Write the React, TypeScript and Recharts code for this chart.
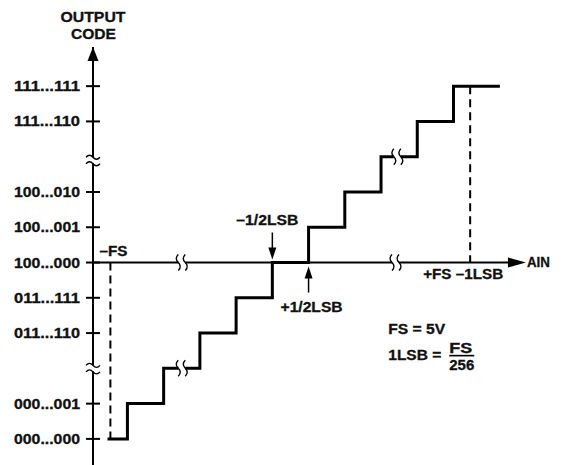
import React from 'react'
import { LineChart, Line, XAxis, YAxis, ReferenceLine, ReferenceDot } from 'recharts'

// --- data ---

// output code levels shown on the vertical axis (2 and 8 are the axis breaks)
const codeLevels = [0, 1, 3, 4, 5, 6, 7, 9, 10]
const codeLabels = [
  '000...000',
  '000...001',
  '011...110',
  '011...111',
  '100...000',
  '100...001',
  '100...010',
  '111...110',
  '111...111',
]

// input (in LSB) at which each code starts
const stepInput = [0.45, 1, 2, 3, 4, 5, 6, 7, 8, 9, 10, 11.28]
const stepCode = [0, 1, 2, 3, 4, 5, 6, 7, 8, 9, 10, 10]

const zeroCode = 5 // 100...000, where the AIN axis crosses
const minusFS = 0.53
const plusFSminus1LSB = 10.46
const minusHalfLSB = 5
const plusHalfLSB = 6
const axisBreaksX = [2.5, 8.4]
const stepBreaks = [
  { x: 2.5, y: 2 },
  { x: 8.45, y: 8 },
]
const codeBreaksY = [2.0, 7.9]

const X_DOMAIN: [number, number] = [0.05, 13.05]
const Y_DOMAIN: [number, number] = [-0.74, 11.11]
const AIN_ARROW_TIP = 12.0
const AIN_ARROW_BASE = 11.52

const chartData = stepInput.map((x, i) => ({ x, code: stepCode[i] }))

const FONT = '"Liberation Sans", Arial, Helvetica, sans-serif'

// bold text stretched to the width it has in the reference
function T({ x, y, w, anchor = 'start', children }: any) {
  return (
    <text
      x={x}
      y={y}
      textAnchor={anchor}
      fontFamily={FONT}
      fontWeight={700}
      fontSize={14}
      fill="#111"
      stroke="#111"
      strokeWidth={0.3}
      textLength={w}
      lengthAdjust="spacingAndGlyphs"
    >
      {children}
    </text>
  )
}

function CodeTick(props: any) {
  const { x, y, payload } = props
  const label = codeLabels[codeLevels.indexOf(payload.value)]
  return (
    <g>
      <line x1={x} x2={x + 14} y1={y} y2={y} stroke="#000" strokeWidth={2} />
      <T x={x - 6} y={y + 5} w={66} anchor="end">
        {label}
      </T>
    </g>
  )
}

// vertical "≀≀" break across a horizontal line
function HBreak({ cx, cy }: any) {
  const s = (x: number) => `M${x},${cy - 8} Q${x - 4},${cy - 4} ${x},${cy} T${x},${cy + 8}`
  return (
    <g>
      <rect x={cx - 3.5} y={cy - 2.5} width={7} height={5} fill="#fff" />
      <path d={s(cx - 3.5)} fill="none" stroke="#000" strokeWidth={1.4} />
      <path d={s(cx + 3.5)} fill="none" stroke="#000" strokeWidth={1.4} />
    </g>
  )
}

// "≈" break across the vertical axis
function VBreak({ cx, cy }: any) {
  const s = (y: number) => `M${cx - 7},${y} Q${cx - 3.5},${y - 4} ${cx},${y} T${cx + 7},${y}`
  return (
    <g>
      <rect x={cx - 2.5} y={cy - 3} width={5} height={6} fill="#fff" />
      <path d={s(cy - 3)} fill="none" stroke="#000" strokeWidth={1.4} />
      <path d={s(cy + 3.5)} fill="none" stroke="#000" strokeWidth={1.4} />
    </g>
  )
}

function YArrow({ cx, cy }: any) {
  return (
    <g>
      <polygon points={`${cx},${cy} ${cx - 5.5},${cy + 14} ${cx + 5.5},${cy + 14}`} fill="#000" />
      <T x={cx} y={22} w={65} anchor="middle">OUTPUT</T>
      <T x={cx + 0.5} y={39} w={45} anchor="middle">CODE</T>
    </g>
  )
}

function XArrow({ cx, cy }: any) {
  return (
    <g>
      <polygon points={`${cx},${cy} ${cx - 18},${cy - 5} ${cx - 18},${cy + 5}`} fill="#000" />
      <T x={cx + 1} y={cy + 4.5} w={23}>AIN</T>
    </g>
  )
}

function DownArrow({ cx, cy }: any) {
  return (
    <g>
      <line x1={cx} x2={cx} y1={cy - 30} y2={cy - 12} stroke="#000" strokeWidth={1.5} />
      <polygon points={`${cx},${cy - 3} ${cx - 4},${cy - 15} ${cx + 4},${cy - 15}`} fill="#000" />
      <T x={cx + 26} y={cy - 38} w={62} anchor="end">–1/2LSB</T>
    </g>
  )
}

function UpArrow({ cx, cy }: any) {
  return (
    <g>
      <line x1={cx} x2={cx} y1={cy + 14} y2={cy + 30} stroke="#000" strokeWidth={1.5} />
      <polygon points={`${cx},${cy + 4} ${cx - 4},${cy + 16} ${cx + 4},${cy + 16}`} fill="#000" />
      <T x={cx - 28} y={cy + 49} w={62}>+1/2LSB</T>
    </g>
  )
}

function MinusFSLabel({ cx, cy }: any) {
  return <T x={cx - 11} y={cy - 7} w={28}>–FS</T>
}

function PlusFSLabel({ cx, cy }: any) {
  return <T x={cx + 33} y={cy + 16} w={80} anchor="end">+FS –1LSB</T>
}

function Legend({ cx, cy }: any) {
  const x = cx
  const y = cy
  return (
    <g>
      <T x={x} y={y} w={57}>FS = 5V</T>
      <T x={x} y={y + 26} w={53}>1LSB =</T>
      <T x={x + 61} y={y + 19} w={23}>FS</T>
      <line x1={x + 61} x2={x + 86} y1={y + 21.5} y2={y + 21.5} stroke="#000" strokeWidth={1.6} />
      <T x={x + 61} y={y + 36} w={25}>256</T>
    </g>
  )
}

export default function App() {
  return (
    <div style={{ width: 564, height: 465, background: '#fff' }}>
      <style>{`body{margin:0}`}</style>
      <LineChart
        width={564}
        height={465}
        data={chartData}
        margin={{ top: 47, right: 0, bottom: 0, left: 0 }}
      >
        <XAxis type="number" dataKey="x" domain={X_DOMAIN} allowDataOverflow hide />
        <YAxis
          type="number"
          domain={Y_DOMAIN}
          allowDataOverflow
          ticks={codeLevels}
          interval={0}
          width={93}
          tickSize={7}
          tickMargin={0}
          tickLine={false}
          axisLine={{ stroke: '#000', strokeWidth: 2 }}
          tick={<CodeTick />}
        />

        {/* AIN axis */}
        <ReferenceLine
          segment={[
            { x: X_DOMAIN[0], y: zeroCode },
            { x: AIN_ARROW_BASE, y: zeroCode },
          ]}
          stroke="#000"
          strokeWidth={2}
        />

        {/* -FS and +FS-1LSB markers */}
        <ReferenceLine
          segment={[
            { x: minusFS, y: zeroCode },
            { x: minusFS, y: 0 },
          ]}
          stroke="#000"
          strokeWidth={2}
          strokeDasharray="8 5"
        />
        <ReferenceLine
          segment={[
            { x: plusFSminus1LSB, y: 10 },
            { x: plusFSminus1LSB, y: zeroCode },
          ]}
          stroke="#000"
          strokeWidth={2}
          strokeDasharray="8 5"
        />

        <Line
          type="stepAfter"
          dataKey="code"
          stroke="#000"
          strokeWidth={3}
          dot={false}
          isAnimationActive={false}
        />

        {axisBreaksX.map((x) => (
          <ReferenceDot key={'ax' + x} x={x} y={zeroCode} ifOverflow="visible" shape={<HBreak />} />
        ))}
        {stepBreaks.map((b) => (
          <ReferenceDot key={'sb' + b.x} x={b.x} y={b.y} ifOverflow="visible" shape={<HBreak />} />
        ))}
        {codeBreaksY.map((y) => (
          <ReferenceDot key={'yb' + y} x={X_DOMAIN[0]} y={y} ifOverflow="visible" shape={<VBreak />} />
        ))}

        <ReferenceDot x={X_DOMAIN[0]} y={Y_DOMAIN[1]} ifOverflow="visible" shape={<YArrow />} />
        <ReferenceDot x={AIN_ARROW_TIP} y={zeroCode} ifOverflow="visible" shape={<XArrow />} />
        <ReferenceDot x={minusHalfLSB} y={zeroCode} ifOverflow="visible" shape={<DownArrow />} />
        <ReferenceDot x={plusHalfLSB} y={zeroCode} ifOverflow="visible" shape={<UpArrow />} />
        <ReferenceDot x={minusFS} y={zeroCode} ifOverflow="visible" shape={<MinusFSLabel />} />
        <ReferenceDot x={plusFSminus1LSB} y={zeroCode} ifOverflow="visible" shape={<PlusFSLabel />} />
        <ReferenceDot x={8.2} y={2.97} ifOverflow="visible" shape={<Legend />} />
      </LineChart>
    </div>
  )
}
